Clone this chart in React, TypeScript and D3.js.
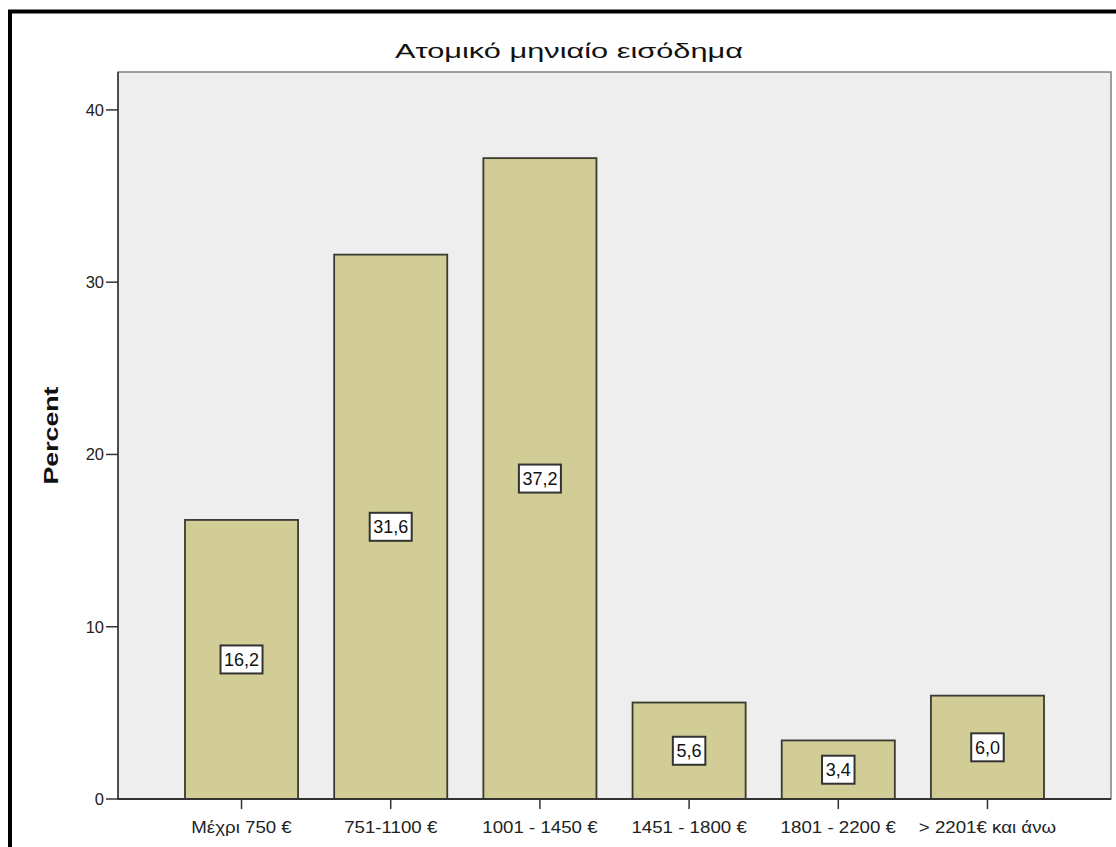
import React from 'react';
import * as d3 from 'd3';

const categories = ['Μέχρι 750 €', '751-1100 €', '1001 - 1450 €', '1451 - 1800 €', '1801 - 2200 €', '> 2201€ και άνω'];
const percents = [16.2, 31.6, 37.2, 5.6, 3.4, 6.0];
const yTicks = [0, 10, 20, 30, 40];

const W = 1116;
const H = 847;
const FONT = 'Liberation Sans, Arial, sans-serif';

const App: React.FC = () => {
  const plot = { left: 118, right: 1111, top: 72, bottom: 799 };

  const x = d3
    .scaleBand<string>()
    .domain(categories)
    .range([plot.left, plot.right])
    .paddingInner(0.242)
    .paddingOuter(0.449);

  const y = d3.scaleLinear().domain([0, 42.2]).range([plot.bottom, plot.top]);

  const fmt = (v: number) => v.toFixed(1).replace('.', ',');

  return (
    <svg width={W} height={H} style={{ position: 'absolute', left: 0, top: 0, display: 'block' }} fontFamily={FONT}>
      <rect x={0} y={0} width={W} height={H} fill="#fff" />
      {/* outer frame, cut off at right and bottom */}
      <rect x={10} y={11.5} width={W + 20} height={H + 20} fill="none" stroke="#000" strokeWidth={4} />

      <text x={569} y={58} textAnchor="middle" fontSize={21} fill="#111" textLength={348} lengthAdjust="spacingAndGlyphs">
        Ατομικό μηνιαίο εισόδημα
      </text>

      {/* plot background */}
      <rect
        x={plot.left}
        y={plot.top}
        width={plot.right - plot.left}
        height={plot.bottom - plot.top}
        fill="#eeeeee"
        stroke="#808080"
        strokeWidth={1.5}
      />

      {categories.map((c, i) => {
        const bx = x(c) as number;
        const bw = x.bandwidth();
        const top = y(percents[i]);
        const mid = (top + y(0)) / 2;
        const label = fmt(percents[i]);
        const boxW = label.length * 9.5 + 4;
        return (
          <g key={c}>
            <rect x={bx} y={top} width={bw} height={y(0) - top} fill="#d2cd97" stroke="#3a3a32" strokeWidth={1.8} />
            <rect x={bx + bw / 2 - boxW / 2} y={mid - 14} width={boxW} height={28} fill="#fff" stroke="#333" strokeWidth={2} />
            <text x={bx + bw / 2} y={mid + 6.5} textAnchor="middle" fontSize={18} fill="#111">
              {label}
            </text>
          </g>
        );
      })}

      {/* y axis */}
      <line x1={plot.left} x2={plot.left} y1={plot.top} y2={plot.bottom} stroke="#333" strokeWidth={1.5} />
      {yTicks.map((t) => (
        <g key={t}>
          <line x1={plot.left - 12} x2={plot.left} y1={y(t)} y2={y(t)} stroke="#333" strokeWidth={1.5} />
          <text x={plot.left - 14} y={y(t) + 6} textAnchor="end" fontSize={16.5} fill="#222">
            {t}
          </text>
        </g>
      ))}
      <text
        transform={`translate(58,${(plot.top + plot.bottom) / 2}) rotate(-90)`}
        textAnchor="middle"
        fontSize={21}
        fontWeight="bold"
        fill="#111"
        textLength={98}
        lengthAdjust="spacingAndGlyphs"
      >
        Percent
      </text>

      {/* x axis */}
      <line x1={plot.left} x2={plot.right} y1={plot.bottom} y2={plot.bottom} stroke="#333" strokeWidth={1.8} />
      {categories.map((c) => {
        const cx = (x(c) as number) + x.bandwidth() / 2;
        return (
          <g key={c}>
            <line x1={cx} x2={cx} y1={plot.bottom} y2={plot.bottom + 10} stroke="#333" strokeWidth={1.5} />
            <text
              transform={`translate(${cx},833) scale(1.1,1)`}
              textAnchor="middle"
              fontSize={17}
              fill="#222"
            >
              {c}
            </text>
          </g>
        );
      })}
    </svg>
  );
};

export default App;
